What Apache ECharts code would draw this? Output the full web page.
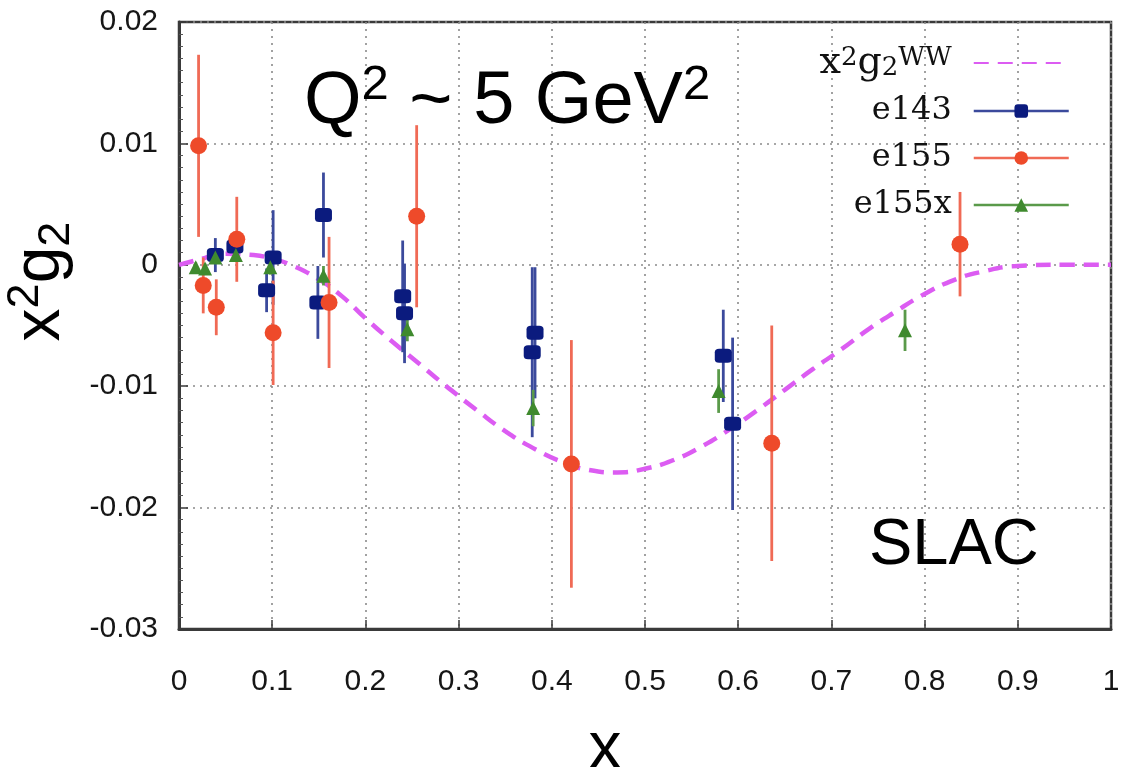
<!DOCTYPE html>
<html>
<head>
<meta charset="utf-8">
<script src="https://cdn.jsdelivr.net/npm/echarts@6/dist/echarts.min.js"></script>
<style>
  html, body { margin: 0; padding: 0; background: #fff; }
  #chart { width: 1123px; height: 767px; }
</style>
</head>
<body>
<div id="chart"></div>
<script>
// Axis ticks
const xTickLabels = ['0', '0.1', '0.2', '0.3', '0.4', '0.5', '0.6', '0.7', '0.8', '0.9', '1'];
const yTickLabels = ['-0.03', '-0.02', '-0.01', '0', '0.01', '0.02'];

// Wandzura-Wilczek curve x^2 g2^WW
const wwX = [0, 0.02, 0.05, 0.08, 0.1, 0.12, 0.15, 0.175, 0.2, 0.23, 0.26, 0.29, 0.32, 0.35, 0.38, 0.41, 0.44, 0.47, 0.5, 0.53, 0.56, 0.59, 0.62, 0.65, 0.68, 0.71, 0.74, 0.77, 0.8, 0.83, 0.86, 0.9, 0.95, 1.0];
const wwY = [0, 0.0004, 0.0009, 0.0008, 0.0005, 0.0, -0.0012, -0.0026, -0.0044, -0.0064, -0.0083, -0.0102, -0.0120, -0.0137, -0.0151, -0.0162, -0.0169, -0.0171, -0.0168, -0.0161, -0.0150, -0.0136, -0.0120, -0.0103, -0.0086, -0.0070, -0.0053, -0.0038, -0.0024, -0.0013, -0.0006, -0.0001, 0, 0];

// E143
const e143X   = [0.039, 0.060, 0.094, 0.101, 0.149, 0.155, 0.240, 0.242, 0.379, 0.382, 0.584, 0.594];
const e143Y   = [0.0008, 0.0015, -0.0021, 0.0006, -0.0031, 0.0041, -0.0026, -0.0040, -0.0072, -0.0056, -0.0075, -0.0131];
const e143Err = [0.0014, 0.0008, 0.0018, 0.0039, 0.0030, 0.0035, 0.0046, 0.0041, 0.0070, 0.0054, 0.0038, 0.0071];

// E155
const e155X   = [0.021, 0.026, 0.040, 0.062, 0.101, 0.161, 0.255, 0.421, 0.636, 0.838];
const e155Y   = [0.0098, -0.0017, -0.0035, 0.0021, -0.0056, -0.0031, 0.0040, -0.0164, -0.0147, 0.0017];
const e155Err = [0.0075, 0.0023, 0.0023, 0.0035, 0.0043, 0.0054, 0.0075, 0.0102, 0.0097, 0.0043];

// E155x
const e155xX   = [0.018, 0.028, 0.039, 0.061, 0.098, 0.155, 0.245, 0.380, 0.579, 0.779];
const e155xY   = [-0.0002, -0.0003, 0.0006, 0.0008, -0.0002, -0.0009, -0.0053, -0.0118, -0.0104, -0.0054];
const e155xErr = [0.0004, 0.0004, 0.0005, 0.0005, 0.0006, 0.0008, 0.0010, 0.0015, 0.0018, 0.0017];

const xMin = 0, xMax = 1, xStep = 0.1;
const yMin = -0.03, yMax = 0.02, yStep = 0.01;

const pairs = (xs, ys) => xs.map((x, i) => [x, ys[i]]);
const bars = (xs, ys, es) => xs.map((x, i) => [x, ys[i] - es[i], ys[i] + es[i]]);

// vertical error bar from (x, low) to (x, high)
function errorBarItem(params, api) {
  const x = api.value(0);
  const lo = api.coord([x, api.value(1)]);
  const hi = api.coord([x, api.value(2)]);
  return {
    type: 'line',
    shape: { x1: lo[0], y1: lo[1], x2: hi[0], y2: hi[1] },
    style: { stroke: api.visual('color'), lineWidth: 2.8 }
  };
}

const SANS = 'Liberation Sans, Arial, sans-serif';
const SERIF = 'DejaVu Serif, serif';

const dotted = { color: '#8a8a8a', width: 1.6, type: [2, 5] };
const frame = { color: '#3a3a3a', width: 3 };
const WW_COLOR = '#dc5cf2';

const chart = echarts.init(document.getElementById('chart'), null, { renderer: 'canvas' });

chart.setOption({
  animation: false,
  backgroundColor: '#fff',
  grid: {
    left: 179, right: 12, top: 22, bottom: 138,
    outerBoundsMode: 'none', containLabel: false,
    show: true, borderColor: '#3a3a3a', borderWidth: 2.5, backgroundColor: 'transparent'
  },
  xAxis: {
    type: 'value', min: xMin, max: xMax, interval: xStep,
    name: 'x', nameLocation: 'middle', nameGap: 88,
    nameTextStyle: { fontFamily: SANS, fontSize: 66, color: '#000', padding: [0, 80, 0, 0] },
    axisLine: { show: true, onZero: false, lineStyle: frame },
    axisTick: { show: true, inside: true, length: 9, lineStyle: { color: '#3a3a3a', width: 1.5 } },
    axisLabel: {
      margin: 38, fontFamily: SANS, fontSize: 30, color: '#161616',
      formatter: v => xTickLabels[Math.round((v - xMin) / xStep)]
    },
    splitLine: { show: true, lineStyle: dotted }
  },
  yAxis: {
    type: 'value', min: yMin, max: yMax, interval: yStep,
    name: '{b|x}{sup|2}{b|g}{sub|2}', nameLocation: 'middle', nameRotate: 90, nameGap: 64,
    nameTextStyle: {
      padding: [0, 0, 0, 88],
      rich: {
        b:   { fontFamily: SANS, fontSize: 66, color: '#000', lineHeight: 76 },
        sup: { fontFamily: SANS, fontSize: 45, color: '#000', lineHeight: 46, verticalAlign: 'top' },
        sub: { fontFamily: SANS, fontSize: 45, color: '#000', lineHeight: 46, verticalAlign: 'bottom' }
      }
    },
    axisLine: { show: true, onZero: false, lineStyle: frame },
    axisTick: { show: true, inside: true, length: 9, lineStyle: { color: '#3a3a3a', width: 1.5 } },
    minorTick: { show: true, splitNumber: 10, length: 4, lineStyle: { color: '#555', width: 1 } },
    axisLabel: {
      margin: 21, fontFamily: SANS, fontSize: 30, color: '#161616',
      formatter: v => yTickLabels[Math.round((v - yMin) / yStep)]
    },
    splitLine: { show: true, lineStyle: dotted }
  },
  legend: {
    orient: 'vertical', right: 53, top: 44, align: 'right', padding: 0,
    itemWidth: 95, itemHeight: 17, itemGap: 11,
    selectedMode: false,
    textStyle: {
      fontFamily: SERIF, fontSize: 32, color: '#111', lineHeight: 36, padding: [0, 17, 0, 0],
      rich: {
        t:   { fontFamily: SERIF, fontSize: 38, color: '#111', lineHeight: 36 },
        sup: { fontFamily: SERIF, fontSize: 26, color: '#111', lineHeight: 24, verticalAlign: 'top' },
        sub: { fontFamily: SERIF, fontSize: 26, color: '#111', lineHeight: 24, verticalAlign: 'bottom' }
      }
    },
    formatter: name => name === 'x2g2WW' ? '{t|x}{sup|2}{t|g}{sub|2}{sup|WW}' : name,
    data: [
      { name: 'x2g2WW', itemStyle: { opacity: 0 } },
      { name: 'e143', lineStyle: { opacity: 1, width: 2.5, color: '#3b4a9c' } },
      { name: 'e155', lineStyle: { opacity: 1, width: 2.5, color: '#f06a55' } },
      { name: 'e155x', lineStyle: { opacity: 1, width: 2.5, color: '#5a9a4a' } }
    ]
  },
  graphic: [
    {
      type: 'text', left: 304, top: 61, z: 10,
      style: {
        text: '{m|Q}{s|2}{m| ~ 5 GeV}{s|2}',
        rich: {
          m: { fontFamily: SANS, fontSize: 74, fill: '#000', lineHeight: 84 },
          s: { fontFamily: SANS, fontSize: 49, fill: '#000', lineHeight: 51, verticalAlign: 'top' }
        }
      }
    },
    {
      type: 'text', left: 869, top: 514, z: 10,
      style: { text: 'SLAC', fontFamily: SANS, fontSize: 65, fill: '#000' }
    }
  ],
  series: [
    {
      name: 'x2g2WW', type: 'line', smooth: true, symbol: 'none', z: 1,
      data: pairs(wwX, wwY),
      lineStyle: { color: WW_COLOR, width: 4.5, type: [15, 9] },
      itemStyle: { color: WW_COLOR }
    },
    {
      name: 'e143 bars', type: 'custom', z: 2, renderItem: errorBarItem,
      itemStyle: { color: '#3b4a9c' }, encode: { x: 0, y: [1, 2] },
      data: bars(e143X, e143Y, e143Err)
    },
    {
      name: 'e155 bars', type: 'custom', z: 2, renderItem: errorBarItem,
      itemStyle: { color: '#f06a55' }, encode: { x: 0, y: [1, 2] },
      data: bars(e155X, e155Y, e155Err)
    },
    {
      name: 'e155x bars', type: 'custom', z: 2, renderItem: errorBarItem,
      itemStyle: { color: '#5a9a4a' }, encode: { x: 0, y: [1, 2] },
      data: bars(e155xX, e155xY, e155xErr)
    },
    {
      name: 'e143', type: 'line', z: 3, showAllSymbol: true,
      symbol: 'roundRect', symbolSize: [17, 14],
      data: pairs(e143X, e143Y),
      lineStyle: { opacity: 0 },
      itemStyle: { color: '#0b1b7e' }
    },
    {
      name: 'e155', type: 'line', z: 3, showAllSymbol: true,
      symbol: 'circle', symbolSize: 17,
      data: pairs(e155X, e155Y),
      lineStyle: { opacity: 0 },
      itemStyle: { color: '#ee4a2a' }
    },
    {
      name: 'e155x', type: 'line', z: 3, showAllSymbol: true,
      symbol: 'triangle', symbolSize: 14,
      data: pairs(e155xX, e155xY),
      lineStyle: { opacity: 0 },
      itemStyle: { color: '#3f8a2e' }
    }
  ]
});
</script>
</body>
</html>
